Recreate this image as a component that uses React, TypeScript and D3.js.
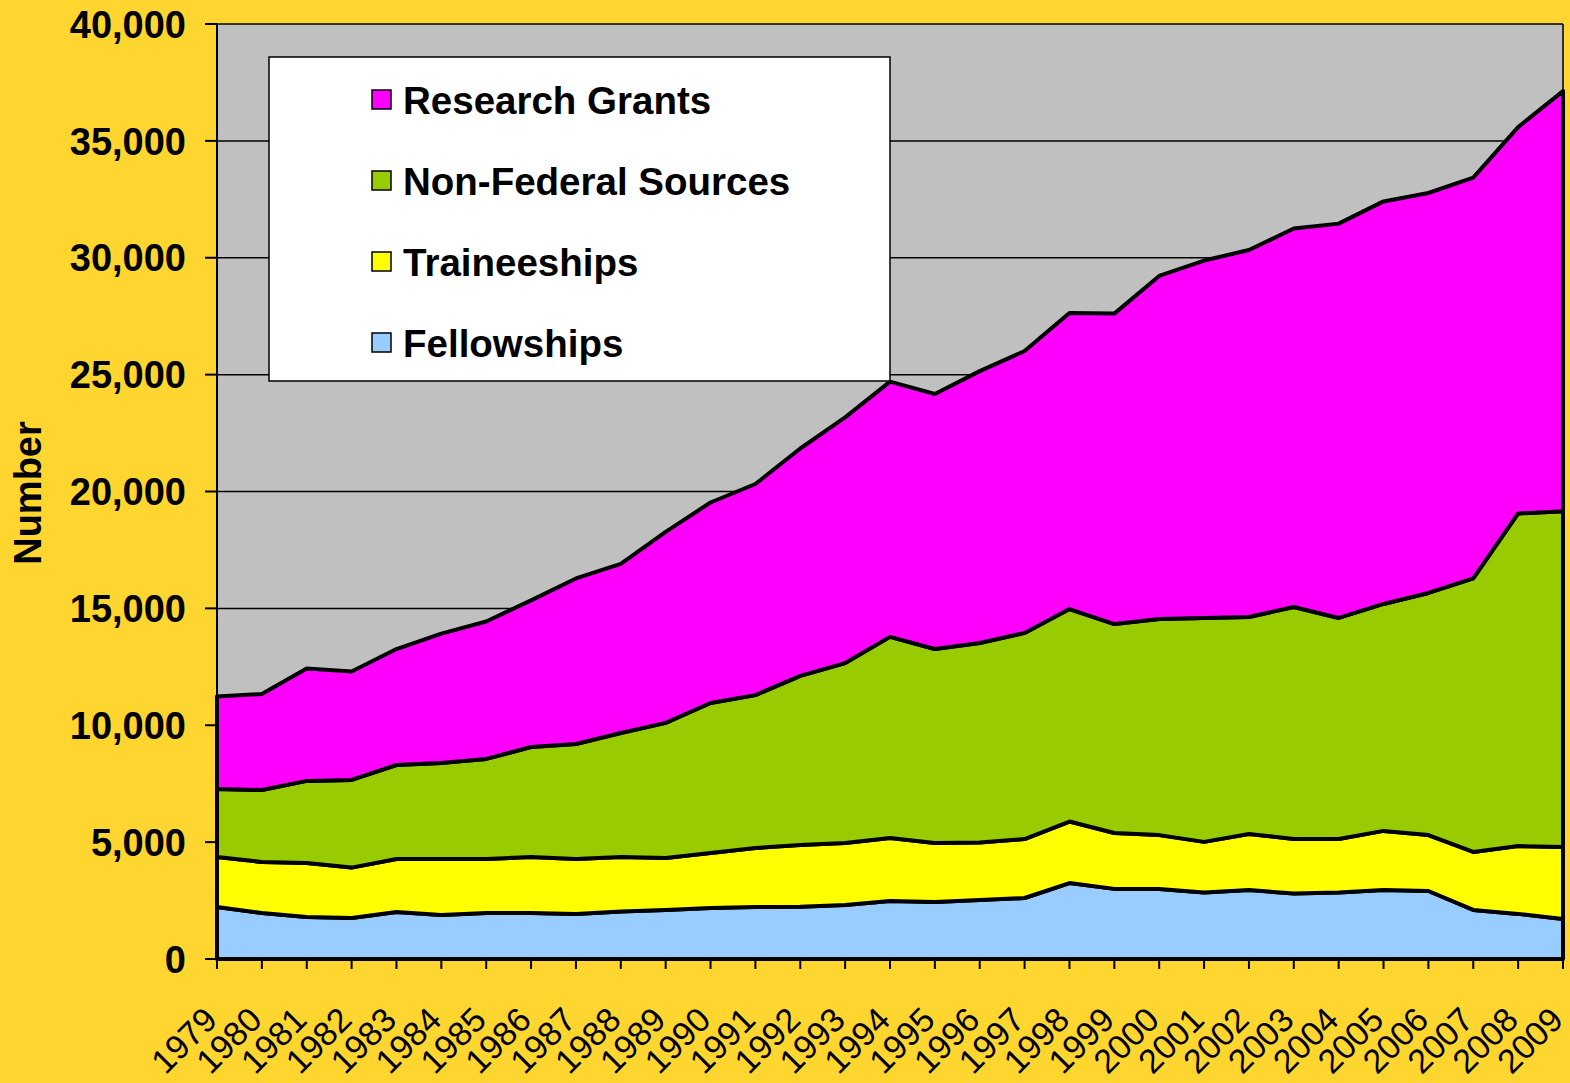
import React from 'react';
import * as d3 from 'd3';

const years = d3.range(1979, 2010);

// values per funding source
const fellowships = [2220, 1970, 1800, 1750, 2010, 1880, 1970, 1970, 1930, 2030, 2100, 2180, 2220, 2240, 2310, 2480, 2440, 2520, 2610, 3250, 3000, 2990, 2850, 2950, 2800, 2850, 2950, 2910, 2100, 1930, 1710];
const traineeships = [2140, 2180, 2310, 2160, 2270, 2400, 2310, 2390, 2350, 2330, 2220, 2350, 2530, 2640, 2650, 2700, 2520, 2460, 2520, 2630, 2390, 2310, 2160, 2400, 2330, 2280, 2530, 2390, 2480, 2900, 3080];
const nonFederal = [2910, 3080, 3510, 3750, 4020, 4110, 4280, 4710, 4920, 5310, 5780, 6420, 6540, 7230, 7700, 8600, 8300, 8540, 8820, 9090, 8940, 9250, 9580, 9280, 9930, 9460, 9710, 10360, 11700, 14230, 14360];
const researchGrants = [3960, 4110, 4810, 4640, 4960, 5530, 5880, 6270, 7080, 7230, 8170, 8580, 9030, 9730, 10510, 10920, 10910, 11630, 12060, 12670, 13280, 14670, 15290, 15700, 16190, 16870, 17220, 17110, 17150, 16530, 17980];

const seriesKeys = ['Fellowships', 'Traineeships', 'Non-Federal Sources', 'Research Grants'];
const seriesColors = ['#99CCFF', '#FFFF00', '#99CC00', '#FF00FF'];
const legendOrder = ['Research Grants', 'Non-Federal Sources', 'Traineeships', 'Fellowships'];
const yTicks = [0, 5000, 10000, 15000, 20000, 25000, 30000, 35000, 40000];

const W = 1570;
const H = 1083;
const margin = { top: 24, right: 7, bottom: 124, left: 217 };
const FONT = '"Liberation Sans", Arial, sans-serif';

const App = () => {
  const rows = years.map((yr, i) => ({
    year: yr,
    'Fellowships': fellowships[i],
    'Traineeships': traineeships[i],
    'Non-Federal Sources': nonFederal[i],
    'Research Grants': researchGrants[i],
  }));

  const stacked = d3.stack<any>().keys(seriesKeys)(rows);

  const x = d3.scaleLinear()
    .domain([years[0], years[years.length - 1]])
    .range([margin.left, W - margin.right]);
  const y = d3.scaleLinear()
    .domain([0, 40000])
    .range([H - margin.bottom, margin.top]);

  const area = d3.area<any>()
    .x(d => x(d.data.year))
    .y0(d => y(d[0]))
    .y1(d => y(d[1]));

  const fmt = d3.format(',');
  const x0 = margin.left;
  const x1 = W - margin.right;
  const yBottom = y(0);
  const yTop = y(40000);

  return (
    <svg width={W} height={H} style={{ position: 'absolute', left: 0, top: 0 }}>
      <rect x={0} y={0} width={W} height={H} fill="#FFD630" />
      <rect x={x0} y={yTop} width={x1 - x0} height={yBottom - yTop} fill="#C0C0C0" />

      {/* gridlines */}
      {yTicks.filter(t => t > 0).map(t => (
        <line key={t} x1={x0} x2={x1} y1={y(t)} y2={y(t)} stroke="#000" strokeWidth={1.5} />
      ))}
      <line x1={x1} x2={x1} y1={yTop} y2={yBottom} stroke="#000" strokeWidth={1.5} />

      {/* stacked areas */}
      {stacked.map((s, i) => (
        <path key={s.key} d={area(s) || ''} fill={seriesColors[i]} stroke="#000" strokeWidth={4} strokeLinejoin="round" />
      ))}

      {/* y axis */}
      <line x1={x0} x2={x0} y1={yTop} y2={yBottom} stroke="#000" strokeWidth={2} />
      {yTicks.map(t => (
        <g key={t}>
          <line x1={x0 - 12} x2={x0} y1={y(t)} y2={y(t)} stroke="#000" strokeWidth={2} />
          <text x={186} y={y(t)} dy="0.36em" textAnchor="end" fontFamily={FONT} fontWeight="bold" fontSize={38} fill="#000">
            {fmt(t)}
          </text>
        </g>
      ))}
      <text transform={`translate(41, 493) rotate(-90)`} textAnchor="middle" fontFamily={FONT} fontWeight="bold" fontSize={38} fill="#000">
        Number
      </text>

      {/* x axis */}
      <line x1={x0} x2={x1} y1={yBottom} y2={yBottom} stroke="#000" strokeWidth={3} />
      {years.map(yr => (
        <g key={yr}>
          <line x1={x(yr)} x2={x(yr)} y1={yBottom} y2={yBottom + 10} stroke="#000" strokeWidth={2} />
          <text transform={`translate(${x(yr) + 2}, 1022) rotate(-45)`} textAnchor="end" fontFamily={FONT} fontSize={34} fill="#000">
            {yr}
          </text>
        </g>
      ))}

      {/* legend */}
      <rect x={269} y={57} width={621} height={324} fill="#fff" stroke="#000" strokeWidth={1.5} />
      {legendOrder.map((k, i) => {
        const cy = 100 + i * 81;
        return (
          <g key={k}>
            <rect x={372} y={cy - 10} width={19} height={19} fill={seriesColors[seriesKeys.indexOf(k)]} stroke="#000" strokeWidth={1.5} />
            <text x={403} y={cy} dy="0.36em" fontFamily={FONT} fontWeight="bold" fontSize={38.5} fill="#000">
              {k}
            </text>
          </g>
        );
      })}
    </svg>
  );
};

export default App;
